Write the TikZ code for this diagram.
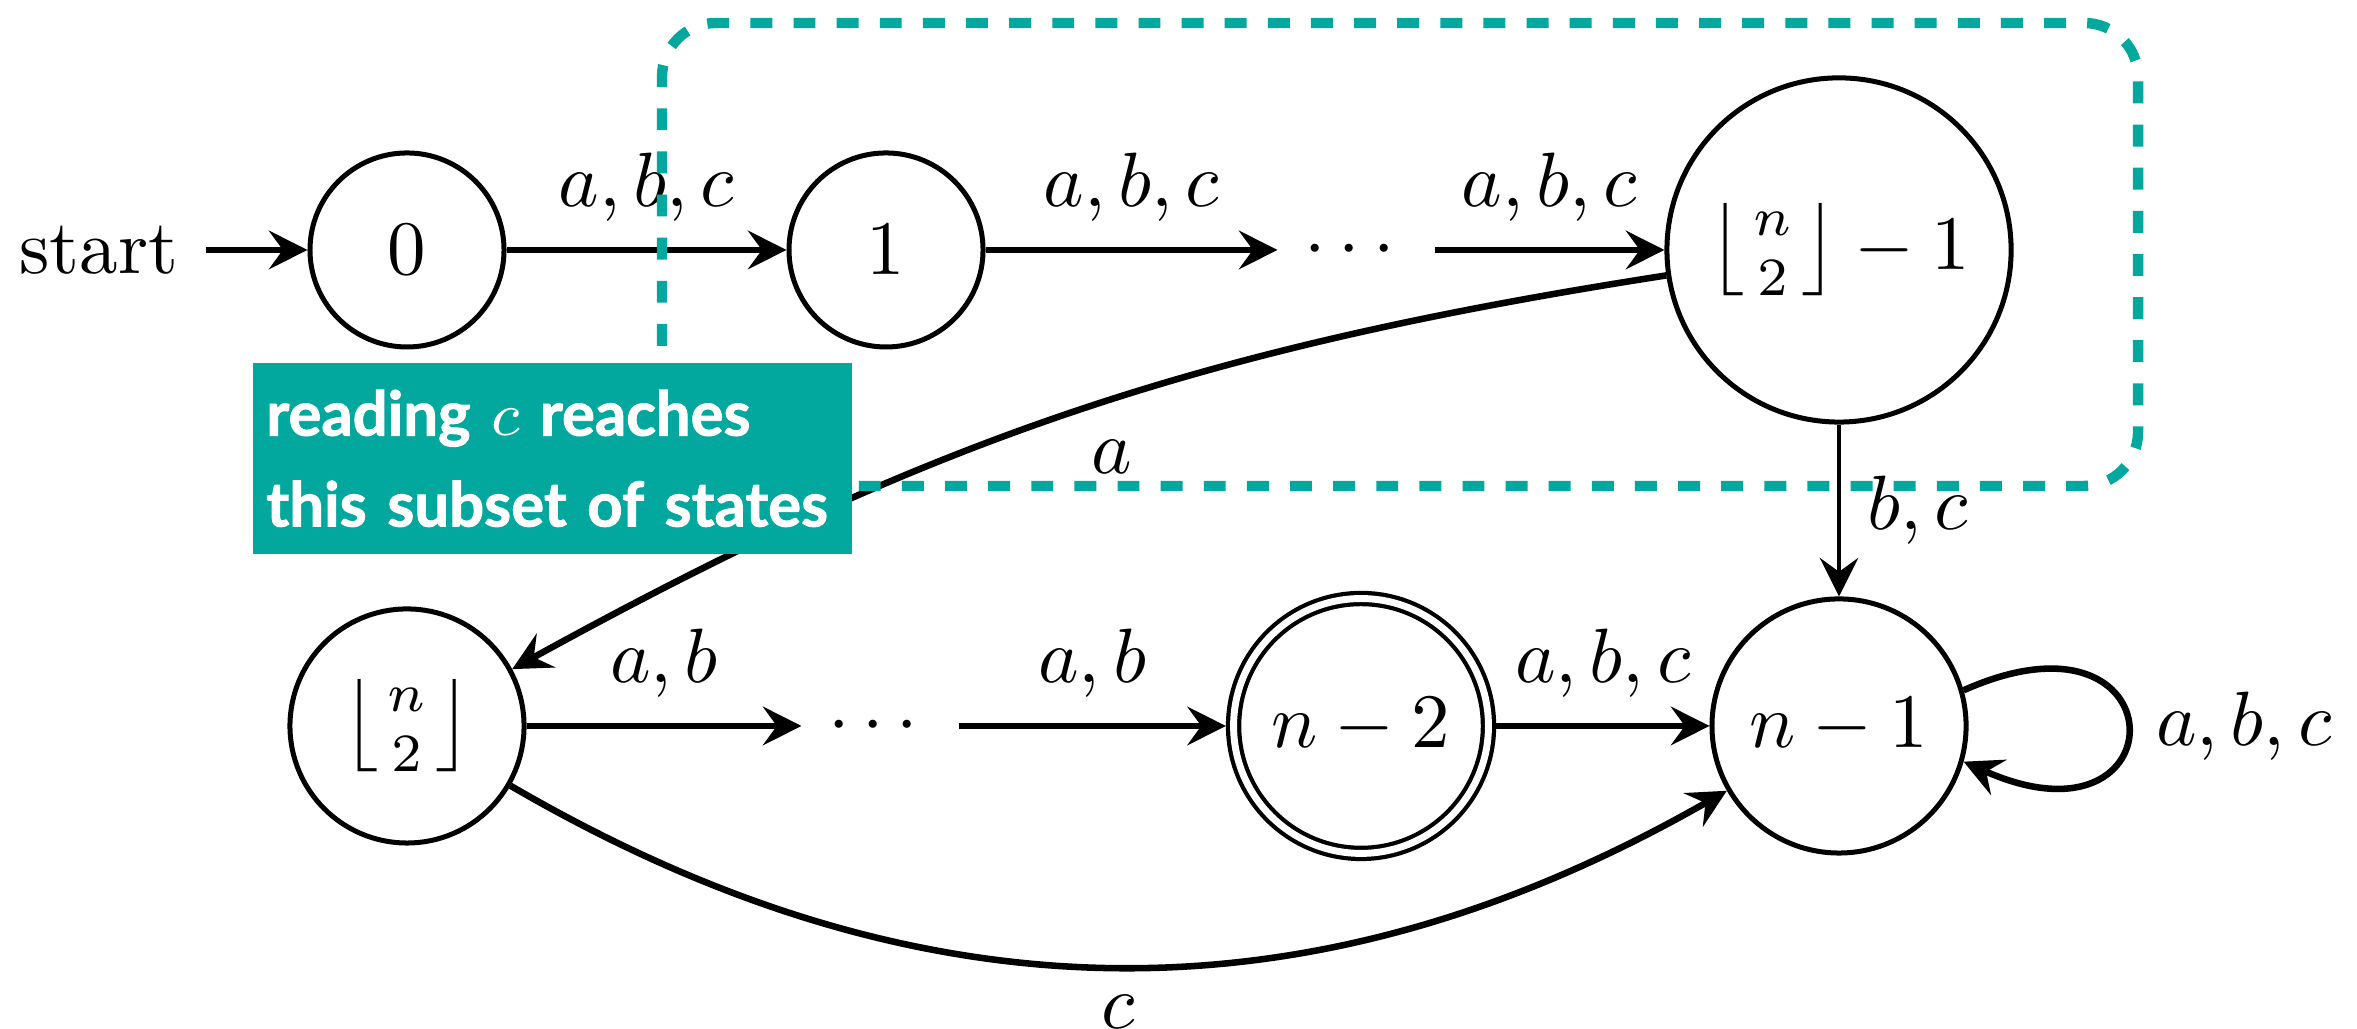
\documentclass[tikz,border=0pt]{standalone}
\usepackage{amsmath}
\usepackage{fontspec}
\newfontfamily\notefont{Lato}[BoldFeatures={FakeBold=1.5}]
\usetikzlibrary{arrows.meta}
\definecolor{hl}{RGB}{2,168,157}
\begin{document}
\begin{tikzpicture}[x=0.12987pt,y=0.12987pt,
  >={Stealth[length=5pt,width=5pt,inset=1.8pt]},
  stnode/.style={circle,draw,line width=0.65pt,inner sep=0pt},
  tr/.style={->,line width=0.85pt},
  subsetbox/.style={draw=hl,line width=1.35pt,rounded corners=7pt,dash pattern=on 2.85pt off 2.75pt},
  notebox/.style={fill=hl,text=white,anchor=north west,minimum height=24.9pt,text width=74.3pt,
    inner xsep=1.8pt,align=left,font={\notefont\bfseries\fontsize{8}{11.8}\selectfont}}]
\useasboundingbox (0,0) rectangle (2357,1029);
% states
\node (start) at (99,779) {start};
\node[stnode,minimum size=25.2pt] (q0) at (407,779) {$0$};
\node[stnode,minimum size=25.2pt] (q1) at (886,779) {$1$};
\node (d1) at (1356,779) {$\cdots$};
\node[stnode,minimum size=44.7pt] (qh1) at (1839,779) {$\left\lfloor\genfrac{}{}{0pt}{}{n}{2}\right\rfloor-1$};
\node[stnode,minimum size=30.4pt] (qh) at (407,303) {$\left\lfloor\genfrac{}{}{0pt}{}{n}{2}\right\rfloor$};
\node (d2) at (880,303) {$\cdots$};
\node[stnode,line width=0.55pt,double,double distance=0.9pt,outer sep=1pt,minimum size=33.1pt] (qn2) at (1361,303) {$n-2$};
\node[stnode,minimum size=33pt] (qn1) at (1839,303) {$n-1$};
% transitions
\draw[tr] (start) -- (q0);
\draw[tr] (q0) -- node[above] {$a,b,c$} (q1);
\draw[tr] (q1) -- node[above] {$a,b,c$} (d1);
\draw[tr] (d1) -- node[above] {$a,b,c$} (qh1);
\draw[->,line width=0.6pt] (qh1) -- node[right] {$b,c$} (qn1);
\draw[tr] (qh1) to[bend right=10] node[below,pos=0.46,yshift=-1.6pt] {$a$} (qh);
\draw[tr] (qh) -- node[above] {$a,b$} (d2);
\draw[tr] (d2) -- node[above] {$a,b$} (qn2);
\draw[tr] (qn2) -- node[above] {$a,b,c$} (qn1);
\draw[tr] (qh) to[bend right=30] node[below] {$c$} (qn1);
\draw[tr] (qn1.16) .. controls +(24:31pt) and +(-24:31pt) .. node[right] {$a,b,c$} (qn1.-16);
% highlighted subset
\draw[subsetbox] (662,543) rectangle (2138,1006);
\node[notebox] (note) at (251,668) {reading $c$ reaches\\this subset of states};
\end{tikzpicture}
\end{document}
